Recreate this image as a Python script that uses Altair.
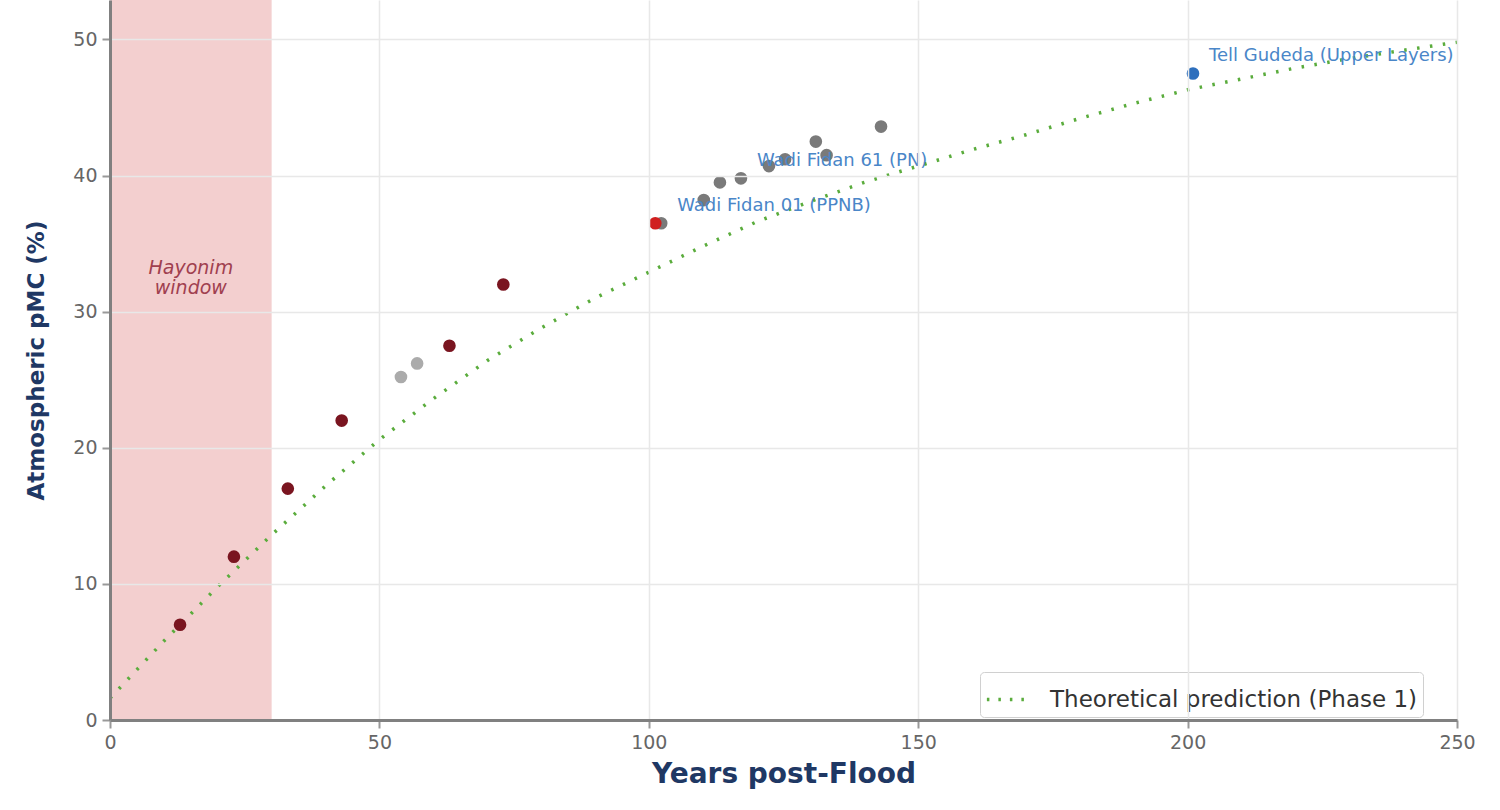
import altair as alt
import pandas as pd

# ---- data ----
years_curve = [0, 10, 20, 30, 40, 50, 60, 70, 80, 90, 100, 110, 120, 130, 140, 150,
               160, 170, 180, 190, 200, 210, 220, 230, 240, 250]
pmc_curve = [1.6, 5.8, 9.8, 13.6, 17.2, 20.6, 23.6, 26.4, 28.8, 31.0, 32.9, 34.8, 36.6,
             38.1, 39.5, 40.7, 41.9, 43.0, 44.2, 45.3, 46.3, 47.1, 47.9, 48.6, 49.2, 49.8]

hay_x = [13, 23, 33, 43, 63, 73]
hay_y = [7.0, 12.0, 17.0, 22.0, 27.5, 32.0]

light_x = [54, 57]
light_y = [25.2, 26.2]

gray_x = [102.3, 110.2, 113.2, 117.1, 122.3, 125.3, 131.0, 133.0, 143.1]
gray_y = [36.5, 38.2, 39.5, 39.8, 40.7, 41.2, 42.5, 41.5, 43.6]

red_x = [101.2]
red_y = [36.5]

blue_x = [201]
blue_y = [47.5]

label_text = ["Wadi Fidan 01 (PPNB)", "Wadi Fidan 61 (PN)", "Tell Gudeda (Upper Layers)"]
label_x = [102.3, 117.1, 201]
label_y = [36.5, 39.8, 47.5]

window_start, window_end = 0, 30
window_label = "Hayonim\nwindow"
window_label_y = 33.2

XDOM = [0, 250]
YDOM = [0, 52.9]
FONT = "DejaVu Sans"

xs = alt.Scale(domain=XDOM, nice=False, zero=False)
ys = alt.Scale(domain=YDOM, nice=False, zero=False)

x_axis = alt.Axis(values=[0, 50, 100, 150, 200, 250], title="Years post-Flood", format="d",
                  labelFlush=False, zindex=1)
y_axis = alt.Axis(values=[0, 10, 20, 30, 40, 50], title="Atmospheric pMC (%)", format="d",
                  labelFlush=False, zindex=1)

# Hayonim window band
band = alt.Chart(pd.DataFrame({"x": [window_start], "x2": [window_end]})).mark_rect(
    color="#f2cccc", opacity=0.95
).encode(
    x=alt.X("x:Q", scale=xs, axis=x_axis),
    x2="x2:Q",
    y=alt.value(0),
    y2=alt.value(720),
)

band_text = alt.Chart(pd.DataFrame({"x": [(window_start + window_end) / 2], "y": [window_label_y], "t": [window_label]})).mark_text(
    font=FONT, fontSize=19, fontStyle="italic", color="#a0404f", lineBreak="\n", lineHeight=20
).encode(x=alt.X("x:Q", scale=xs), y=alt.Y("y:Q", scale=ys), text="t:N")

# theoretical curve
curve_df = pd.DataFrame({"x": years_curve, "y": pmc_curve, "s": ["Theoretical prediction (Phase 1)"] * len(years_curve)})
curve = alt.Chart(curve_df).mark_line(strokeDash=[2.5, 10.5], strokeWidth=3.5, clip=True).encode(
    x=alt.X("x:Q", scale=xs),
    y=alt.Y("y:Q", scale=ys, axis=y_axis),
    color=alt.Color("s:N", scale=alt.Scale(range=["#5aac3c"]), legend=alt.Legend(
        title=None, orient="none", legendX=870, legendY=672,
        symbolType="stroke", symbolStrokeWidth=3.5, symbolDash=[2.5, 9], symbolSize=1700,
        labelFont=FONT, labelFontSize=23, labelColor="#333333", labelLimit=0,
        strokeColor="#d0d0d0", fillColor="white", padding=5, cornerRadius=4,
        labelOffset=20,
    )),
)

def pts(xv, yv, color):
    return alt.Chart(pd.DataFrame({"x": xv, "y": yv})).mark_circle(
        size=160, opacity=1, color=color
    ).encode(x=alt.X("x:Q", scale=xs), y=alt.Y("y:Q", scale=ys))

gray_pts = pts(gray_x, gray_y, "#7a7a7a")
light_pts = pts(light_x, light_y, "#ababab")
hay_pts = pts(hay_x, hay_y, "#7a1520")
red_pts = pts(red_x, red_y, "#d01f1f")
blue_pts = pts(blue_x, blue_y, "#2e6fbd")

labels = alt.Chart(pd.DataFrame({"x": label_x, "y": label_y, "t": label_text})).mark_text(
    font=FONT, fontSize=18, color="#4a86c8", align="left", baseline="middle", dx=16, dy=-17, clip=True
).encode(x=alt.X("x:Q", scale=xs), y=alt.Y("y:Q", scale=ys), text="t:N")

chart = alt.layer(band, curve, gray_pts, light_pts, hay_pts, red_pts, blue_pts, band_text, labels).properties(
    width=1347, height=720,
    padding={"left": 110, "top": 0, "right": 43, "bottom": 90},
    autosize=alt.AutoSizeParams(type="none"),
).configure_view(stroke=None).configure_axis(
    labelFont=FONT, labelFontSize=19, labelColor="#666666",
    titleFont=FONT, titleFontSize=23, titleFontWeight="bold", titleColor="#1f3864",
    domainColor="#808080", domainWidth=3, tickColor="#999999", tickSize=8, tickWidth=2,
    gridColor="#e8e8e8", gridWidth=1.5, labelPadding=5,
).configure_axisX(titlePadding=8, titleFontSize=28).configure_axisY(titlePadding=24)

chart.save("out.html", embed_options={"renderer": "svg", "actions": False})
